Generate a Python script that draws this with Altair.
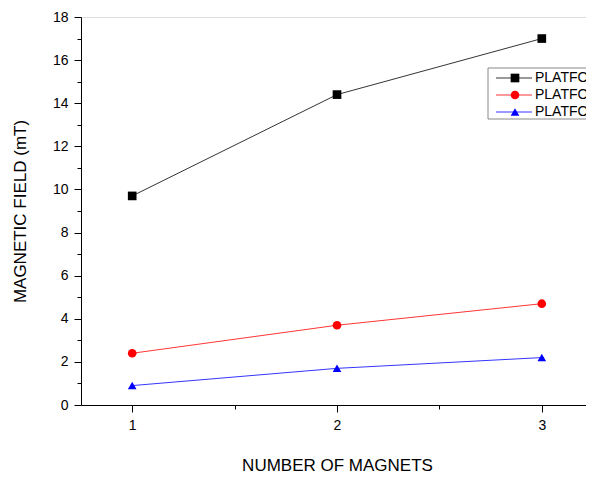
import altair as alt
import pandas as pd

magnets = [1, 2, 3]
series_names = ["PLATFORM 1", "PLATFORM 2", "PLATFORM 3"]
series_values = [
    [9.7, 14.4, 17.0],
    [2.4, 3.7, 4.7],
    [0.9, 1.7, 2.2],
]
colors = ["#000000", "#ff0000", "#0000ff"]
shapes = ["square", "circle", "triangle-up"]
y_ticks = list(range(0, 19))
x_ticks = [1, 1.5, 2, 2.5, 3]

rows = []
for name, vals in zip(series_names, series_values):
    for m, v in zip(magnets, vals):
        rows.append({"magnets": m, "field": v, "series": name})
df = pd.DataFrame(rows)

FONT = "Liberation Sans"

x = alt.X(
    "magnets:Q",
    scale=alt.Scale(domain=[0.75, 3.25], nice=False, zero=False, range=[0, 512]),
    axis=alt.Axis(
        title="NUMBER OF MAGNETS",
        values=x_ticks,
        labelExpr="datum.value % 1 === 0 ? format(datum.value, 'd') : ''",
        tickSize={"condition": {"test": "datum.value % 1 === 0", "value": 7}, "value": 4},
        grid=False,
        domainColor="black",
        tickColor="black",
        labelColor="black",
        titleColor="black",
        labelFont=FONT,
        titleFont=FONT,
        labelFontSize=14,
        titleFontSize=17,
        titleFontWeight="normal",
        labelPadding=6,
        titlePadding=25,
        titleX=256,
    ),
)
y = alt.Y(
    "field:Q",
    scale=alt.Scale(domain=[0, 18], nice=False),
    axis=alt.Axis(
        title="MAGNETIC FIELD (mT)",
        values=y_ticks,
        labelExpr="datum.value % 2 === 0 ? datum.label : ''",
        tickSize={"condition": {"test": "datum.value % 2 === 0", "value": 7}, "value": 4},
        grid=False,
        domainColor="black",
        tickColor="black",
        labelColor="black",
        titleColor="black",
        labelFont=FONT,
        titleFont=FONT,
        labelFontSize=14,
        titleFontSize=17,
        titleFontWeight="normal",
        labelPadding=6,
        titlePadding=23,
    ),
)
color = alt.Color("series:N", scale=alt.Scale(domain=series_names, range=colors), legend=None)
shape = alt.Shape("series:N", scale=alt.Scale(domain=series_names, range=shapes), legend=None)

base = alt.Chart(df)
lines = base.mark_line(strokeWidth=0.8).encode(x=x, y=y, color=color, detail="series:N")
points = base.mark_point(filled=True, size=75, opacity=1).encode(x=x, y=y, color=color, shape=shape)

layers = [lines, points]

# legend box (drawn inside plot; the page edge cuts it off like the reference)
leg_df = pd.DataFrame({"series": series_names})
box = alt.Chart(leg_df.head(1)).mark_rect(
    fill="white", stroke="#888888", strokeWidth=1
).encode(x=alt.value(407), x2=alt.value(560), y=alt.value(51), y2=alt.value(102))
layers.append(box)
ys = [61, 78, 95]
for i, name in enumerate(series_names):
    d = leg_df.iloc[[i]]
    c = colors[i]
    layers.append(
        alt.Chart(d).mark_rule(color=c, strokeWidth=0.8).encode(
            x=alt.value(415), x2=alt.value(451), y=alt.value(ys[i])
        )
    )
    layers.append(
        alt.Chart(d).mark_point(filled=True, size=75, opacity=1, color=c, shape=shapes[i]).encode(
            x=alt.value(434), y=alt.value(ys[i])
        )
    )
    layers.append(
        alt.Chart(d).mark_text(
            align="left", baseline="middle", font=FONT, fontSize=14, color="black"
        ).encode(x=alt.value(454), y=alt.value(ys[i]), text="series:N")
    )

chart = (
    alt.layer(*layers)
    .properties(
        width=505,
        height=388,
        padding={"left": 73, "top": 9, "right": 0, "bottom": 70},
        autosize=alt.AutoSizeParams(type="none"),
    )
    .configure_view(stroke=None)
    .configure(background="white")
)

chart.save("out.html", embed_options={"renderer": "svg", "actions": False})
